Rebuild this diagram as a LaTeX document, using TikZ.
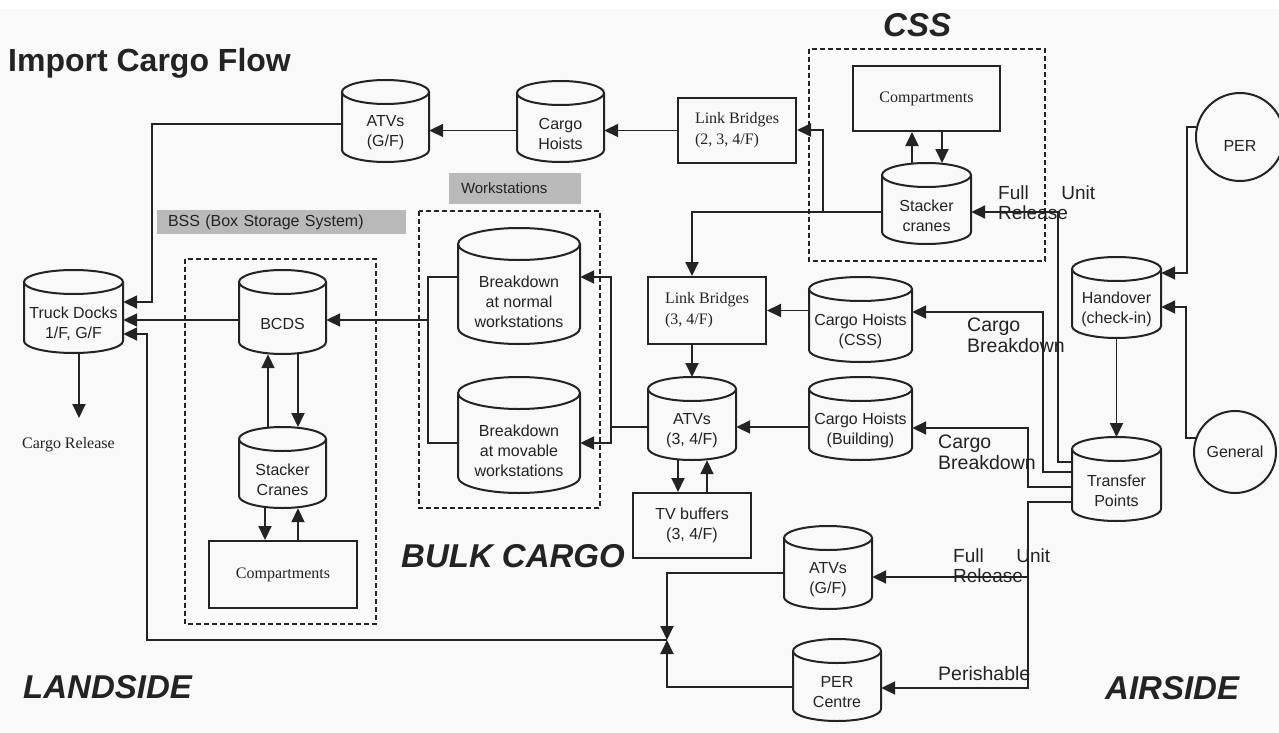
\documentclass[tikz,border=0pt]{standalone}
\usepackage{fontspec}
\setmainfont{Liberation Sans}
\newfontfamily\tms{Liberation Serif}
\usetikzlibrary{arrows.meta}
\definecolor{ink}{RGB}{35,35,35}
\definecolor{bg}{RGB}{249,249,249}
\definecolor{tagfill}{RGB}{185,185,185}
\tikzset{
  wire/.style={draw=ink, line width=1.9pt},
  arr/.style={wire, -{Triangle[length=14pt,width=13pt]}},
  cylline/.style={draw=ink, line width=2pt},
  cyltext/.style={inner sep=0pt, align=center, text=ink, font=\fontsize{16}{20}\selectfont},
  boxtms/.style={draw=ink, line width=2pt, inner sep=0pt, align=left, text=ink, font=\tms\fontsize{16}{21}\selectfont},
  boxsans/.style={draw=ink, line width=2pt, inner sep=0pt, align=center, text=ink, font=\fontsize{16}{20}\selectfont},
  dashbox/.style={draw=ink, line width=1.7pt, dash pattern=on 5pt off 3pt},
  greytag/.style={fill=tagfill, inner ysep=0pt, text=ink, align=left},
  zone/.style={inner sep=0pt, anchor=base west, text=ink, font=\bfseries\itshape\fontsize{33}{36}\selectfont},
  flownote/.style={inner sep=0pt, text=ink, font=\fontsize{19.5}{21}\selectfont, align=left},
  ring/.style={circle, draw=ink, line width=2pt, inner sep=0pt, text=ink, font=\fontsize{16}{19}\selectfont},
}
\newcommand\cylnode[7][12]{%
  \node[cyltext, minimum width={#4pt-#3pt}, minimum height={#6pt-#5pt-2*#1pt}] (#2) at ({(#3+#4)/2},{(#5+2*#1+#6)/2}) {#7};
  \coordinate (#2top) at ({(#3+#4)/2},#5);
  \draw[cylline] ({(#3+#4)/2},{#5+#1}) ellipse [x radius={(#4pt-#3pt)/2}, y radius=#1pt]
    (#3,{#5+#1}) -- (#3,{#6-#1}) arc [start angle=180, end angle=360, x radius={(#4pt-#3pt)/2}, y radius=#1pt] -- (#4,{#5+#1});
}
\begin{document}
\begin{tikzpicture}[x=1pt,y=-1pt]
\useasboundingbox (0,0) rectangle (1279,733);
\fill[bg] (0,0) rectangle (1279,733);
\fill[white] (0,0) rectangle (1279,9);

% titles and zone labels
\node[inner sep=0pt, anchor=base west, text=ink, font=\bfseries\fontsize{32}{36}\selectfont] (title) at (8,72) {Import Cargo Flow};
\node[zone] (css) at (883,37) {CSS};
\node[zone] (bulk) at (401,567) {BULK CARGO};
\node[zone] (land) at (23,698) {LANDSIDE};
\node[zone] (air) at (1105,699) {AIRSIDE};

% group frames
\draw[dashbox] (809,49) rectangle (1045,261);
\draw[dashbox] (419,211) rectangle (600,508);
\draw[dashbox] (185,259) rectangle (376,624);
\node[greytag, minimum height=24pt, text width=227pt, inner xsep=11pt, font=\fontsize{16}{19}\selectfont] (bsstag) at (281.5,222) {BSS (Box Storage System)};
\node[greytag, minimum height=31pt, text width=108pt, inner xsep=12pt, font=\fontsize{15}{18}\selectfont] (wstag) at (515,188.5) {Workstations};

% cylinders
\cylnode{atvgf}{342}{429}{80}{162}{ATVs\\(G/F)}
\cylnode{hoist}{517}{604}{81}{162}{Cargo\\Hoists}
\cylnode{stk}{882}{971}{163}{244}{Stacker\\cranes}
\cylnode{handover}{1072}{1161}{257}{338}{Handover\\(check-in)}
\cylnode{tp}{1072}{1161}{437}{521}{Transfer\\Points}
\cylnode{hcss}{809}{912}{277}{362}{Cargo Hoists\\(CSS)}
\cylnode{hbld}{809}{912}{377}{460}{Cargo Hoists\\(Building)}
\cylnode{atv}{648}{736}{377}{460}{ATVs\\(3, 4/F)}
\cylnode[16]{bdn}{458}{580}{228}{344}{Breakdown\\at normal\\workstations}
\cylnode[16]{bdm}{458}{580}{377}{493}{Breakdown\\at movable\\workstations}
\cylnode{bcds}{239}{326}{270}{354}{BCDS}
\cylnode{stkb}{239}{326}{427}{508}{Stacker\\Cranes}
\cylnode{truck}{24}{123}{270}{353}{Truck Docks\\1/F, G/F}
\cylnode{atvl}{784}{872}{526}{609}{ATVs\\(G/F)}
\cylnode{perc}{793}{881}{639}{721}{PER\\Centre}

% boxes
\node[boxtms, minimum width=118pt, minimum height=65pt] (lbone) at (737,130.5) {Link Bridges\\(2, 3, 4/F)};
\node[boxtms, minimum width=118pt, minimum height=67pt] (lbtwo) at (707,310.5) {Link Bridges\\(3, 4/F)};
\node[boxtms, minimum width=147pt, minimum height=65pt] (compa) at (926.5,98.5) {Compartments};
\node[boxtms, minimum width=148pt, minimum height=67pt] (compb) at (283,574.5) {Compartments};
\node[boxsans, minimum width=118pt, minimum height=65pt] (tvb) at (692,525.5) {TV buffers\\(3, 4/F)};

% circles
\node[ring, minimum size=88pt, text height=28pt, text depth=0pt] (per) at (1240,137) {PER};
\node[ring, minimum size=82pt] (gen) at (1235,452) {General};

% texts
\node[inner sep=0pt, anchor=base west, text=ink, font=\tms\fontsize{16}{19}\selectfont] (crel) at (22,448) {Cargo Release};
\node[flownote, font=\fontsize{19}{19.5}\selectfont, text width=97pt, anchor=north west] (furone) at (998,186) {Full\hfill Unit\\Release};
\node[flownote, font=\fontsize{19}{19.5}\selectfont, text width=97pt, anchor=north west] (furtwo) at (953,549) {Full\hfill Unit\\Release};
\node[flownote, anchor=north west] (cbone) at (967,317.5) {Cargo\\Breakdown};
\node[flownote, anchor=north west] (cbtwo) at (938,434.5) {Cargo\\Breakdown};
\node[flownote, anchor=base west] (peri) at (938,680) {Perishable};

\coordinate (crelin) at (79,418);
\coordinate (junc) at (667,640);

% top row
\draw[arr] (lbone.west) -- (lbone.west -| hoist.east);
\draw[arr] (hoist.west |- lbone.west) -- (lbone.west -| atvgf.east);
\draw[arr] (atvgf.west |- 0,124) -| (152,302) -- (truck.east |- 0,302);

% CSS
\draw[arr] (stk.west |- 0,212) -| (atv.center |- lbtwo.north);
\draw[arr] (823,212) |- (lbone.east |- 0,130);
\draw[arr] (912,0 |- stktop) -- (912,0 |- compa.south);
\draw[arr] (942,0 |- compa.south) -- (942,0 |- stktop);

% airside
\draw[arr] (tp.west |- 0,462) -| (1058,212) -- (stk.east |- 0,212);
\draw[arr] (tp.west |- 0,472) -| (1043,312) -- (hcss.east |- 0,312);
\draw[arr] (tp.west |- 0,487) -| (1028,428) -- (hbld.east |- 0,428);
\draw[arr] (tp.west |- 0,502) -| (1028,688) -- (perc.east |- 0,688);
\draw[arr] (1028,577) -- (atvl.east |- 0,577);
\draw[arr] (per.167) -| (1187,273) -- (handover.east |- 0,273);
\draw[arr] (gen.160) -| (1186,307) -- (handover.east |- 0,307);
\draw[arr] (handover.south) -- (tptop);

% bulk cargo
\draw[arr] (hcss.west |- lbtwo.east) -- (lbtwo.east);
\draw[arr] (atv.center |- lbtwo.south) -- (atvtop);
\draw[arr] (hbld.west |- 0,427) -- (atv.east |- 0,427);
\draw[arr] (atv.west |- 0,427) -| (611,277) -- (bdn.east |- 0,277);
\draw[arr] (611,427) |- (bdm.east |- 0,443);
\draw[wire] (bdn.west |- 0,277) -| (428,443) -- (bdm.west |- 0,443);
\draw[arr] (428,320) -- (bcds.east |- 0,320);
\draw[arr] (678,0 |- atv.south) -- (678,0 |- tvb.north);
\draw[arr] (707,0 |- tvb.north) -- (707,0 |- atv.south);

% BSS
\draw[arr] (bcds.west |- 0,320) -- (truck.east |- 0,320);
\draw[arr] (268,0 |- stkbtop) -- (268,0 |- bcds.south);
\draw[arr] (298,0 |- bcds.south) -- (298,0 |- stkbtop);
\draw[arr] (265,0 |- stkb.south) -- (265,0 |- compb.north);
\draw[arr] (298,0 |- compb.north) -- (298,0 |- stkb.south);
\draw[arr] (79,0 |- truck.south) -- (crelin);

% ground floor release
\draw[arr] (atvl.west |- 0,573) -| (junc);
\draw[arr] (perc.west |- 0,687) -| (junc);
\draw[arr] (junc) -| (147,334) -- (truck.east |- 0,334);
\end{tikzpicture}
\end{document}
